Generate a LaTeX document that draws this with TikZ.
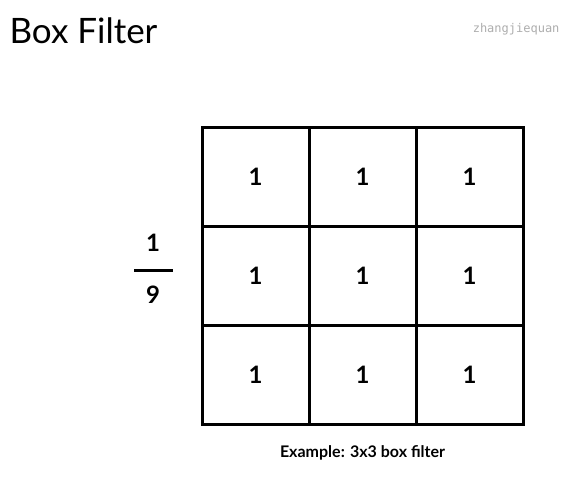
\documentclass[tikz,border=0pt]{standalone}
\usepackage{fontspec}
\setmainfont{Lato}
\newfontfamily\markfont{DejaVu Sans Mono}
\usetikzlibrary{positioning}
\tikzset{cell/.style={rectangle,draw=black,line width=3pt,outer sep=0pt,
  minimum width=107pt,minimum height=99pt,inner sep=0pt,font=\bfseries\fontsize{24}{24}\selectfont}}

\begin{document}
\begin{tikzpicture}[x=1pt,y=-1pt,node distance=0pt, align=center]
\useasboundingbox (0,0) rectangle (580,483);

\node (title) [anchor=base west,font=\fontsize{35}{35}\selectfont] at (6,43) {Box Filter};
\node (mark) [anchor=base east,text=black!32,font=\markfont\fontsize{12}{12}\selectfont] at (563,32) {zhangjiequan};

\node (c11) [cell] at (255.5,176.5) {1};
\node (c12) [cell,right=of c11] {1};
\node (c13) [cell,right=of c12] {1};

\node (c21) [cell,below=of c11] {1};
\node (c22) [cell,right=of c21] {1};
\node (c23) [cell,right=of c22] {1};

\node (c31) [cell,below=of c21] {1};
\node (c32) [cell,right=of c31] {1};
\node (c33) [cell,right=of c32] {1};

\node (fracnum) [font=\bfseries\fontsize{24}{24}\selectfont] at (153,243) {1};
\node (fracden) [font=\bfseries\fontsize{24}{24}\selectfont] at (153,295) {9};
\draw [line width=3pt] (134,270) -- (173,270);

\node (caption) [below=18pt of c32,font=\bfseries\fontsize{16}{16}\selectfont] {Example: 3x3 box filter};

\end{tikzpicture}
\end{document}
